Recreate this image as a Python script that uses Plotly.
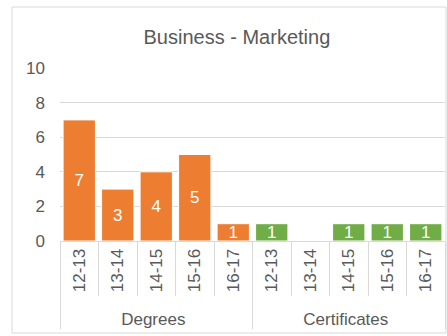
import plotly.graph_objects as go

# Program award counts by academic year
years = ["12-13", "13-14", "14-15", "15-16", "16-17"]
degrees = [7, 3, 4, 5, 1]
certificates = [1, 0, 1, 1, 1]
y_ticks = [0, 2, 4, 6, 8, 10]

W, H = 447, 336
ML, MR, MT, MB = 60, 2, 68, 95
FONT = "Liberation Sans, Arial"
GREY = "#595959"
LINE = "#d9d9d9"

fig = go.Figure()
for name, vals, color in [("Degrees", degrees, "#ed7d31"),
                          ("Certificates", certificates, "#70ad47")]:
    fig.add_trace(go.Bar(
        x=[[name] * len(years), years],
        y=vals,
        marker=dict(color=color, line=dict(color="white", width=1)),
        text=[str(v) if v else "" for v in vals],
        textposition="inside",
        insidetextanchor="middle",
        textangle=0,
        textfont=dict(color="white", size=17, family=FONT),
        constraintext="none",
        showlegend=False,
    ))

# Outer chart frame in paper coordinates
pw = W - ML - MR
ph = H - MT - MB
fig.add_shape(type="rect", xref="paper", yref="paper",
              x0=(12 - ML) / pw, x1=(446 - ML) / pw,
              y0=(H - MB - 333) / ph, y1=(H - MB - 7) / ph,
              line=dict(color=LINE, width=1), layer="below")

fig.update_layout(
    width=W, height=H,
    margin=dict(l=ML, r=MR, t=MT, b=MB),
    paper_bgcolor="white", plot_bgcolor="white",
    barmode="overlay",
    bargap=0.16,
    font=dict(family=FONT, color=GREY, size=17),
    title=dict(text="Business - Marketing", x=0.53, xanchor="center",
               y=1 - 37 / H, yanchor="middle",
               font=dict(size=20, color=GREY, family=FONT)),
    xaxis=dict(
        type="multicategory",
        tickangle=-90,
        tickfont=dict(size=17, color=GREY),
        showline=True, linecolor=LINE, linewidth=1,
        ticks="outside", ticklen=54, tickcolor=LINE,
        showdividers=True, dividercolor=LINE, dividerwidth=1,
        showgrid=False,
    ),
    yaxis=dict(
        range=[0, 10], tickvals=y_ticks,
        tickfont=dict(size=17, color=GREY),
        showgrid=True, gridcolor=LINE, gridwidth=1,
        zeroline=False, showline=False, ticks="", ticklabelstandoff=14,
    ),
)

fig.write_html("out.html")
